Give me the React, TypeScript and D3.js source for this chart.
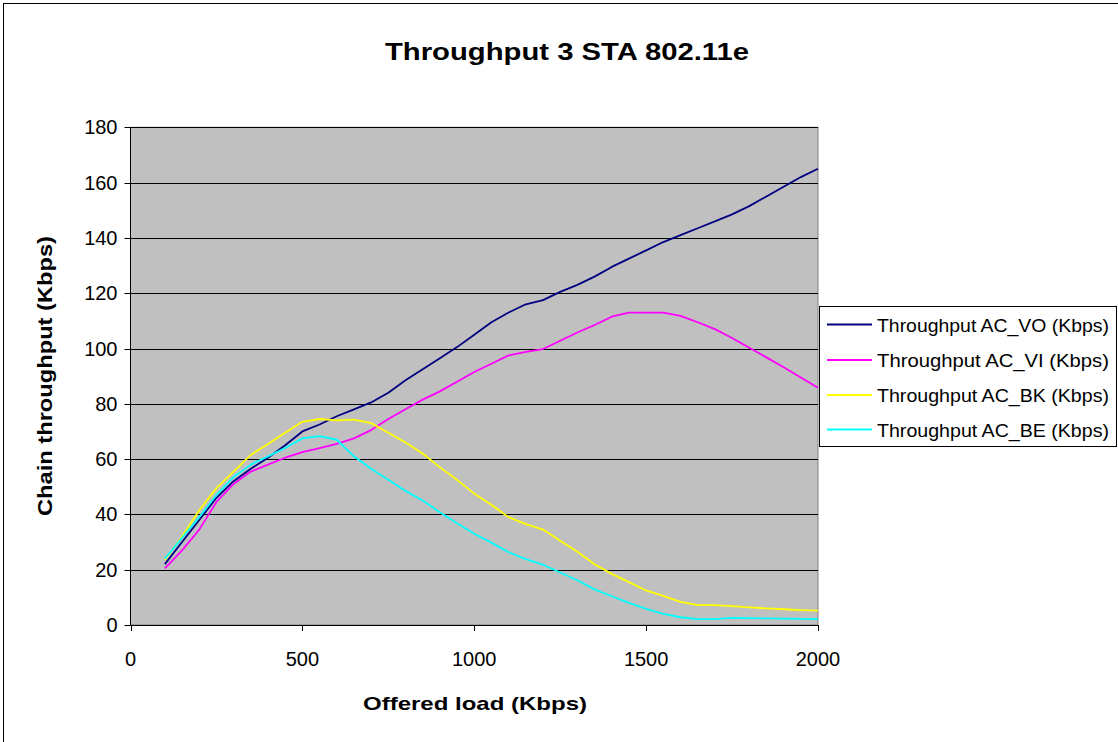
import React from "react";
import * as d3 from "d3";

const offeredLoad = [100,150,200,250,300,350,400,450,500,550,600,650,700,750,800,850,900,950,1000,1050,1100,1150,1200,1250,1300,1350,1400,1450,1500,1550,1600,1650,1700,1750,1800,1850,1900,1950,2000];
const acVO = [22,30,38,46,52,56.5,60.5,65,70,72.5,75.5,78,80.5,84,88.5,92.5,96.5,100.5,105,109.5,113,116,117.5,120.5,123,126,129.5,132.5,135.5,138.5,141,143.5,146,148.5,151.5,155,158.5,162,165];
const acVI = [20.5,27,34.5,44.5,51,55.5,58,60.5,62.5,64,65.5,67.5,70.5,74.5,78,81.5,84.5,88,91.5,94.5,97.5,98.8,99.8,102.8,105.8,108.5,111.5,113,113,113,111.8,109.5,107,103.8,100.3,96.8,93.2,89.5,85.8];
const acBK = [23.5,32,41.5,49.5,55.5,61.5,65.5,69.5,73.5,74.5,74,74.3,73,69.5,66,62,57,52.5,47.5,43.5,39,36.5,34.5,30.5,26.5,22,18.5,15.5,12.5,10.5,8.4,7.2,7.2,6.8,6.4,6,5.7,5.4,5.2];
const acBE = [24,31.5,39,47,53.5,58,61,64,67.5,68.3,67,61,56.5,52.5,48.5,45,40.8,36.8,33,29.8,26.3,23.8,21.8,19,16.2,12.9,10.4,8,5.8,4,2.8,2.1,2.1,2.6,2.5,2.4,2.3,2.2,2.1];
const seriesNames = ["Throughput AC_VO (Kbps)","Throughput AC_VI (Kbps)","Throughput AC_BK (Kbps)","Throughput AC_BE (Kbps)"];
const seriesColors = ["#000080","#FF00FF","#FFFF00","#00FFFF"];
const xTicks = [0,500,1000,1500,2000];
const yTicks = [0,20,40,60,80,100,120,140,160,180];

export default function App() {
  const W = 1118, H = 742;
  const left = 130.5, right = 818, top = 127.3, bottom = 625;
  const x = d3.scaleLinear().domain([0, 2000]).range([left, right]);
  const y = d3.scaleLinear().domain([0, 180]).range([bottom, top]);
  const allSeries = [acVO, acVI, acBK, acBE];
  const line = d3.line<number>().x((_, i) => x(offeredLoad[i])).y((d) => y(d));
  const font = "Arial, 'Liberation Sans', sans-serif";
  const legendRowY = [324.5, 360, 395, 429.5];
  return (
    <svg width={W} height={H} style={{ position: "absolute", left: 0, top: 0 }} fontFamily={font}>
      <rect x={0} y={0} width={W} height={H} fill="#fff" />
      <rect x={3.5} y={3.5} width={W + 10} height={H + 10} fill="none" stroke="#000" strokeWidth={1} />
      <text x={567} y={60} textAnchor="middle" fontSize={23} fontWeight="bold" textLength={364} lengthAdjust="spacingAndGlyphs">Throughput 3 STA 802.11e</text>
      <rect x={left} y={top} width={right - left} height={bottom - top} fill="#C0C0C0" stroke="#808080" strokeWidth={1} />
      {yTicks.map((t) => (
        <g key={"y" + t}>
          {t > 0 && <line x1={left} x2={right} y1={Math.round(y(t)) + 0.5} y2={Math.round(y(t)) + 0.5} stroke="#000" strokeWidth={1} />}
          <line x1={left - 6} x2={left} y1={Math.round(y(t)) + 0.5} y2={Math.round(y(t)) + 0.5} stroke="#000" />
          <text x={left - 13} y={y(t) + 7} textAnchor="end" fontSize={20}>{t}</text>
        </g>
      ))}
      {xTicks.map((t) => (
        <g key={"x" + t}>
          <line x1={Math.round(x(t)) + 0.5} x2={Math.round(x(t)) + 0.5} y1={bottom} y2={bottom + 6} stroke="#000" />
          <text x={x(t)} y={bottom + 41} textAnchor="middle" fontSize={20}>{t}</text>
        </g>
      ))}
      <line x1={left} x2={left} y1={top} y2={bottom} stroke="#000" />
      <line x1={left} x2={right} y1={bottom + 0.5} y2={bottom + 0.5} stroke="#000" />
      {allSeries.map((s, i) => (
        <path key={i} d={line(s) || ""} fill="none" stroke={seriesColors[i]} strokeWidth={1.8} strokeLinejoin="round" />
      ))}
      <text x={475} y={710} textAnchor="middle" fontSize={19} fontWeight="bold" textLength={224} lengthAdjust="spacingAndGlyphs">Offered load (Kbps)</text>
      <text transform="translate(52,376) rotate(-90)" textAnchor="middle" fontSize={21} fontWeight="bold" textLength={280} lengthAdjust="spacingAndGlyphs">Chain throughput (Kbps)</text>
      <rect x={819.5} y={306.5} width={297} height={140} fill="#fff" stroke="#000" strokeWidth={1} />
      {seriesNames.map((n, i) => (
        <g key={n}>
          <line x1={827} x2={872} y1={legendRowY[i]} y2={legendRowY[i]} stroke={seriesColors[i]} strokeWidth={1.8} />
          <text x={877} y={legendRowY[i] + 7} fontSize={19} textLength={232} lengthAdjust="spacingAndGlyphs">{n}</text>
        </g>
      ))}
    </svg>
  );
}
